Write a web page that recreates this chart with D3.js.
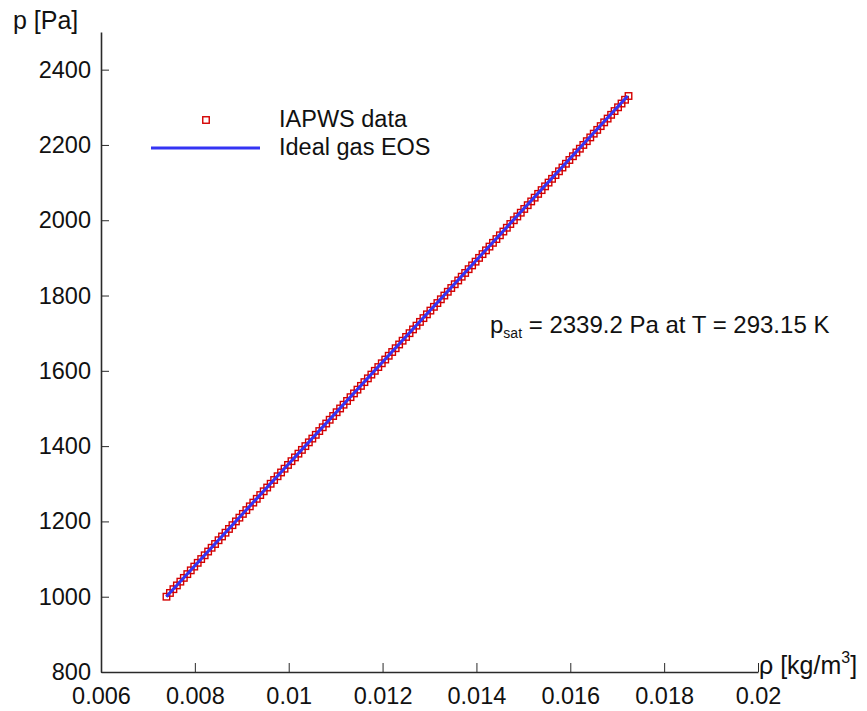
<!DOCTYPE html>
<html>
<head>
<meta charset="utf-8">
<script src="https://cdn.jsdelivr.net/npm/d3@7"></script>
<style>
  body { margin: 0; background: #fff; }
  svg text { font-family: "Liberation Sans", Arial, sans-serif; fill: #111; }
</style>
</head>
<body>
<div id="chart"></div>
<script>
// pressure samples [Pa] along the isotherm T = 293.15 K
const pressure = [
  1000, 1010, 1020, 1030, 1040, 1050, 1060, 1070, 1080, 1090,
  1100, 1110, 1120, 1130, 1140, 1150, 1160, 1170, 1180, 1190,
  1200, 1210, 1220, 1230, 1240, 1250, 1260, 1270, 1280, 1290,
  1300, 1310, 1320, 1330, 1340, 1350, 1360, 1370, 1380, 1390,
  1400, 1410, 1420, 1430, 1440, 1450, 1460, 1470, 1480, 1490,
  1500, 1510, 1520, 1530, 1540, 1550, 1560, 1570, 1580, 1590,
  1600, 1610, 1620, 1630, 1640, 1650, 1660, 1670, 1680, 1690,
  1700, 1710, 1720, 1730, 1740, 1750, 1760, 1770, 1780, 1790,
  1800, 1810, 1820, 1830, 1840, 1850, 1860, 1870, 1880, 1890,
  1900, 1910, 1920, 1930, 1940, 1950, 1960, 1970, 1980, 1990,
  2000, 2010, 2020, 2030, 2040, 2050, 2060, 2070, 2080, 2090,
  2100, 2110, 2120, 2130, 2140, 2150, 2160, 2170, 2180, 2190,
  2200, 2210, 2220, 2230, 2240, 2250, 2260, 2270, 2280, 2290,
  2300, 2310, 2320, 2330
];
// IAPWS density [kg/m3]
const densityIapws = [
  0.007395, 0.007469, 0.007543, 0.007617, 0.007691, 0.007765, 0.007839, 0.007913, 0.007987, 0.008061,
  0.008135, 0.008209, 0.008283, 0.008357, 0.008431, 0.008505, 0.008579, 0.008653, 0.008727, 0.008801,
  0.008875, 0.008949, 0.009023, 0.009097, 0.009171, 0.009245, 0.009319, 0.009393, 0.009467, 0.009541,
  0.009615, 0.009689, 0.009763, 0.009837, 0.009911, 0.009985, 0.010059, 0.010133, 0.010207, 0.010281,
  0.010355, 0.010429, 0.010503, 0.010577, 0.010651, 0.010725, 0.010799, 0.010873, 0.010947, 0.011021,
  0.011095, 0.011169, 0.011243, 0.011317, 0.011391, 0.011465, 0.011539, 0.011613, 0.011687, 0.011761,
  0.011835, 0.011909, 0.011983, 0.012057, 0.012131, 0.012205, 0.012279, 0.012353, 0.012427, 0.012501,
  0.012575, 0.012649, 0.012723, 0.012797, 0.012871, 0.012945, 0.013019, 0.013094, 0.013168, 0.013242,
  0.013316, 0.013390, 0.013464, 0.013538, 0.013612, 0.013686, 0.013760, 0.013834, 0.013908, 0.013982,
  0.014056, 0.014130, 0.014204, 0.014278, 0.014352, 0.014426, 0.014500, 0.014574, 0.014648, 0.014722,
  0.014797, 0.014871, 0.014945, 0.015019, 0.015093, 0.015167, 0.015241, 0.015315, 0.015389, 0.015463,
  0.015537, 0.015611, 0.015685, 0.015759, 0.015833, 0.015907, 0.015981, 0.016056, 0.016130, 0.016204,
  0.016278, 0.016352, 0.016426, 0.016500, 0.016574, 0.016648, 0.016722, 0.016796, 0.016870, 0.016944,
  0.017018, 0.017092, 0.017167, 0.017241
];
// ideal gas EOS line (straight, p = rho R T)
const idealPressure = [1000, 2330];
const idealDensity = [0.007391, 0.017222];

const xTicks = [0.006, 0.008, 0.01, 0.012, 0.014, 0.016, 0.018, 0.02];
const yTicks = [800, 1000, 1200, 1400, 1600, 1800, 2000, 2200, 2400];

const width = 867;
const height = 711;

const svg = d3.select("#chart")
  .append("svg")
  .attr("width", width)
  .attr("height", height)
  .style("display", "block");

svg.append("rect").attr("width", width).attr("height", height).attr("fill", "#fff");

const x = d3.scaleLinear().domain([0.006, 0.02]).range([101, 758]);
const y = d3.scaleLinear().domain([800, 2500]).range([672, 32]);

// x axis
const xAxis = svg.append("g")
  .attr("transform", `translate(0,${y(800)})`)
  .call(d3.axisBottom(x).tickValues(xTicks).tickFormat(d3.format("~g"))
    .tickSize(-9).tickSizeOuter(0).tickPadding(15));

// y axis
const yAxis = svg.append("g")
  .attr("transform", `translate(${x(0.006)},0)`)
  .call(d3.axisLeft(y).tickValues(yTicks).tickFormat(d3.format("d"))
    .tickSize(-8).tickSizeOuter(0).tickPadding(10));

[xAxis, yAxis].forEach((a) => {
  a.selectAll(".domain").attr("stroke", "#2a2a2a").attr("stroke-width", 1.6);
  a.selectAll(".tick line").attr("stroke", "#2a2a2a").attr("stroke-width", 1);
  a.selectAll(".tick text").attr("font-size", "23.5px").attr("fill", "#111")
    .attr("font-family", "Liberation Sans, Arial, sans-serif");
});

// axis titles
svg.append("text")
  .attr("x", 13)
  .attr("y", 29)
  .attr("font-size", "25px")
  .text("p [Pa]");

const xt = svg.append("text")
  .attr("x", 759)
  .attr("y", 674)
  .attr("font-size", "25px");
xt.append("tspan").text("ρ [kg/m");
xt.append("tspan").attr("font-size", "16px").attr("dy", -11).text("3");
xt.append("tspan").attr("dy", 11).text("]");

const line = d3.line().x((d) => x(d[0])).y((d) => y(d[1]));

// IAPWS markers
const ms = 6.5;
svg.append("g")
  .selectAll("rect")
  .data(d3.zip(densityIapws, pressure))
  .join("rect")
  .attr("x", (d) => x(d[0]) - ms / 2)
  .attr("y", (d) => y(d[1]) - ms / 2)
  .attr("width", ms)
  .attr("height", ms)
  .attr("fill", "none")
  .attr("stroke", "#d40000")
  .attr("stroke-width", 1.4);

// ideal gas line
svg.append("path")
  .datum(d3.zip(idealDensity, idealPressure))
  .attr("d", line)
  .attr("fill", "none")
  .attr("stroke", "#3434f4")
  .attr("stroke-width", 3);

// legend
const legend = svg.append("g");
legend.append("rect")
  .attr("x", 206 - ms / 2)
  .attr("y", 120 - ms / 2)
  .attr("width", ms)
  .attr("height", ms)
  .attr("fill", "none")
  .attr("stroke", "#d40000")
  .attr("stroke-width", 1.4);
legend.append("line")
  .attr("x1", 151).attr("x2", 260)
  .attr("y1", 148).attr("y2", 148)
  .attr("stroke", "#3434f4")
  .attr("stroke-width", 3);
legend.append("text").attr("x", 279).attr("y", 127).attr("font-size", "23.5px").text("IAPWS data");
legend.append("text").attr("x", 279).attr("y", 155).attr("font-size", "23.5px").text("Ideal gas EOS");

// annotation
const note = svg.append("text").attr("x", 490).attr("y", 333).attr("font-size", "24px");
note.append("tspan").text("p");
note.append("tspan").attr("font-size", "14px").attr("dy", 5).text("sat");
note.append("tspan").attr("dy", -5).text(" = 2339.2 Pa at T = 293.15 K");
</script>
</body>
</html>
